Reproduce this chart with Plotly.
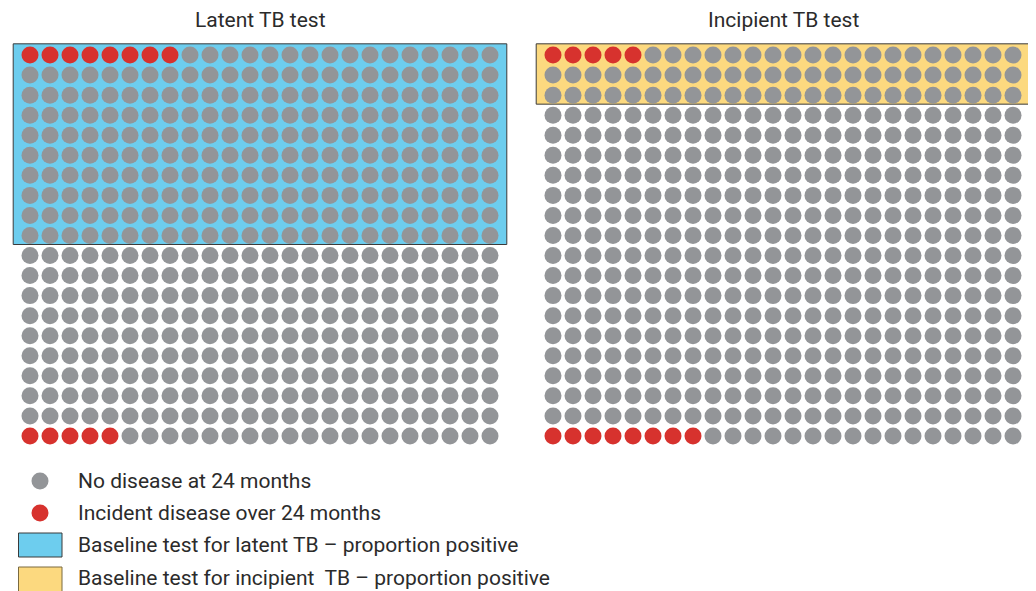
import plotly.graph_objects as go

# ---- data ----
panel_titles = ["Latent TB test", "Incipient TB test"]
n_cols = 24
n_rows = 20
positive_rows = [10, 3]          # rows inside the "test positive" box
incident_in_positive = [8, 5]    # red dots in first row (test positive)
incident_in_negative = [5, 8]    # red dots in last row (test negative)
legend_labels = [
    "No disease at 24 months",
    "Incident disease over 24 months",
    "Baseline test for latent TB \u2013 proportion positive",
    "Baseline test for incipient\u00a0 TB \u2013 proportion positive",
]

# ---- styles ----
GREY = "#939598"
RED = "#D7322E"
BLUE = "#6DCDEE"
YELLOW = "#FCD97F"
EDGE = "#3A3A3A"
TXT = "#2B2B2B"
FONT = "Roboto, 'DejaVu Sans', sans-serif"
box_fills = [BLUE, YELLOW]

OFF = 8                    # page body margin
FW, FH = 1036 - OFF, 591 - OFF


def px(x):
    return (x - OFF) / FW


def py(y):
    return 1 - (y - OFF) / FH


fig = go.Figure()

x_domains = [[px(10), px(510)], [px(533), px(1033)]]
y_domain = [py(456), py(35)]

shapes = []
annotations = []
for p in range(2):
    xs_g, ys_g, xs_r, ys_r = [], [], [], []
    for r in range(n_rows):
        for c in range(n_cols):
            red = (r == 0 and c < incident_in_positive[p]) or (
                r == n_rows - 1 and c < incident_in_negative[p])
            if red:
                xs_r.append(c); ys_r.append(r)
            else:
                xs_g.append(c); ys_g.append(r)
    xa = "x" if p == 0 else "x2"
    ya = "y" if p == 0 else "y2"
    shapes.append(dict(type="rect", xref=xa, yref=ya, layer="below",
                       x0=-0.84, x1=n_cols - 1 + 0.84,
                       y0=-0.56, y1=positive_rows[p] - 0.55,
                       fillcolor=box_fills[p], line=dict(color=EDGE, width=1)))
    fig.add_trace(go.Scatter(x=xs_g, y=ys_g, mode="markers", xaxis=xa, yaxis=ya,
                             marker=dict(size=17, color=GREY, line=dict(width=0)),
                             showlegend=False, hoverinfo="skip"))
    fig.add_trace(go.Scatter(x=xs_r, y=ys_r, mode="markers", xaxis=xa, yaxis=ya,
                             marker=dict(size=17, color=RED, line=dict(width=0)),
                             showlegend=False, hoverinfo="skip"))
    annotations.append(dict(text=panel_titles[p], xref=xa, x=(n_cols - 1) / 2,
                            yref="paper", y=py(20), yanchor="middle",
                            showarrow=False, font=dict(size=21, color=TXT, family=FONT)))

axis_common = dict(visible=False, showgrid=False, zeroline=False, fixedrange=True)
fig.update_layout(
    xaxis=dict(domain=x_domains[0], range=[-1, n_cols], anchor="y", **axis_common),
    yaxis=dict(domain=y_domain, range=[n_rows, -1], anchor="x", **axis_common),
    xaxis2=dict(domain=x_domains[1], range=[-1, n_cols], anchor="y2", **axis_common),
    yaxis2=dict(domain=y_domain, range=[n_rows, -1], anchor="x2", **axis_common),
)

# ---- legend (drawn manually) ----
leg_y = [481, 513, 545, 578]
shapes.append(dict(type="circle", xref="paper", yref="paper",
                   x0=px(31.5), x1=px(48.5), y0=py(489.5), y1=py(472.5),
                   fillcolor=GREY, line=dict(width=0)))
shapes.append(dict(type="circle", xref="paper", yref="paper",
                   x0=px(31.5), x1=px(48.5), y0=py(521.5), y1=py(504.5),
                   fillcolor=RED, line=dict(width=0)))
shapes.append(dict(type="rect", xref="paper", yref="paper",
                   x0=px(18.5), x1=px(62), y0=py(557), y1=py(533),
                   fillcolor=BLUE, line=dict(color=EDGE, width=1)))
shapes.append(dict(type="rect", xref="paper", yref="paper",
                   x0=px(18.5), x1=px(62), y0=py(592), y1=py(567),
                   fillcolor=YELLOW, line=dict(color="#7A6A40", width=1)))
for lab, ly in zip(legend_labels, leg_y):
    annotations.append(dict(text=lab, xref="paper", yref="paper", x=px(76), y=py(ly),
                            xanchor="left", yanchor="middle", showarrow=False,
                            font=dict(size=21, color=TXT, family=FONT)))

fig.update_layout(
    width=FW, height=FH, margin=dict(l=0, r=0, t=0, b=0),
    paper_bgcolor="white", plot_bgcolor="rgba(0,0,0,0)",
    shapes=shapes, annotations=annotations, showlegend=False,
)
fig.write_html("out.html")
